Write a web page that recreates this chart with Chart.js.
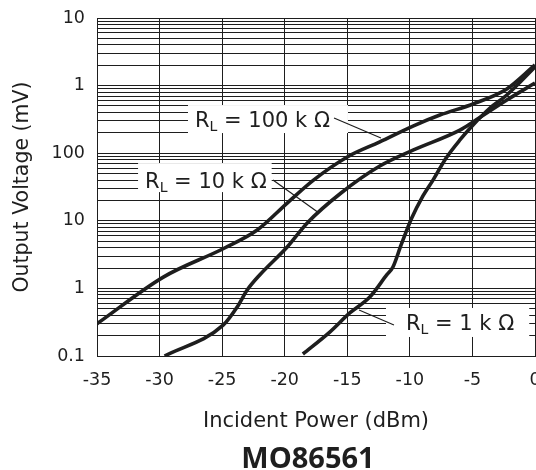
<!DOCTYPE html>
<html>
<head>
<meta charset="utf-8">
<script src="https://cdn.jsdelivr.net/npm/chart.js@4/dist/chart.umd.min.js"></script>
<style>
  html, body { margin: 0; padding: 0; background: #fff; overflow: hidden; }
  canvas { display: block; }
</style>
</head>
<body>
<canvas id="chart" width="536" height="470"></canvas>
<script>
// Incident power axis (dBm)
const powerTicks = [-35, -30, -25, -20, -15, -10, -5, 0];

// Output voltage decades, in µV, and the labels printed beside them
const voltageDecades = [0.1, 1, 10, 100, 1000, 10000];
const voltageDecadeLabels = ['0.1', '1', '10', '100', '1', '10'];

// R_L = 100 kΩ
const rl100kPower   = [-35, -29.7, -24.8, -22.2, -19.8, -17.7, -15.0, -12.4, -9.75, -7.6, -4.95, -2.25, 0];
const rl100kVoltage = [0.30, 1.47, 3.96, 7.3, 18.3, 40, 88, 147, 252, 367, 535, 891, 2018];

// R_L = 10 kΩ
const rl10kPower   = [-29.6, -24.9, -23.8, -23.0, -22.0, -19.8, -18.2, -15.5, -12.4, -9.75, -6.0, -4.95, -2.25, 0];
const rl10kVoltage = [0.1, 0.288, 0.53, 0.946, 1.58, 4.1, 9.3, 25.8, 64.7, 111, 220, 290, 612, 1092];

// R_L = 1 kΩ
const rl1kPower   = [-18.55, -16.4, -14.8, -13.2, -11.85, -11.35, -10.7, -9.85, -9.05, -8.15, -7.1, -6.0, -4.95, -3.6, -2.25, 0];
const rl1kVoltage = [0.107, 0.226, 0.433, 0.746, 1.58, 2.07, 4.39, 11, 21.7, 40, 85, 157, 261, 466, 726, 1884];

// Curve labels: load value, text anchor (dBm, µV), box padding [l, r, t, b], leader line ends
const curveLabels = [
  { value: '100', at: [-27.17, 320],   box: [7, 18, 14, 14], leader: [[-16.06, 332], [-12.31, 168]] },
  { value: '10',  at: [-31.16, 40],    box: [7, 5, 17, 12],  leader: [[-20.94, 40],  [-17.26, 13.0]] },
  { value: '1',   at: [-10.31, 0.308], box: [20, 15, 15, 14], leader: [[-14.06, 0.479], [-11.27, 0.288]] }
];

const INK = '#1e1e1e';
const FONT = "'DejaVu Sans', 'Open Sans', sans-serif";
const BOLD_FONT = "'Open Sans', 'DejaVu Sans', sans-serif";

const toPoints = (xs, ys) => xs.map((x, i) => ({ x, y: ys[i] }));

// Grid values: 1..9 within every decade, plus the top decade
const yGridValues = [];
for (let i = 0; i < voltageDecades.length - 1; i++) {
  for (let k = 1; k <= 9; k++) yGridValues.push(voltageDecades[i] * k);
}
yGridValues.push(voltageDecades[voltageDecades.length - 1]);

function decadeLabel(v) {
  for (let i = 0; i < voltageDecades.length; i++) {
    if (Math.abs(v - voltageDecades[i]) / voltageDecades[i] < 1e-6) return voltageDecadeLabels[i];
  }
  return '';
}

const curveStyle = {
  borderColor: INK,
  borderWidth: 3.6,
  pointRadius: 0,
  fill: false,
  cubicInterpolationMode: 'monotone',
  borderCapStyle: 'butt'
};

// Draws the white label boxes with their leader lines behind the curves
const curveLabelPlugin = {
  id: 'curveLabels',
  beforeDatasetsDraw(chart) {
    const { ctx, scales: { x, y } } = chart;
    ctx.save();
    curveLabels.forEach(lab => {
      const tx = x.getPixelForValue(lab.at[0]);
      const ty = y.getPixelForValue(lab.at[1]);
      const big = `21px ${FONT}`;
      const small = `14px ${FONT}`;
      ctx.font = big;
      const wR = ctx.measureText('R').width;
      const rest = ` = ${lab.value} k Ω`;
      const wRest = ctx.measureText(rest).width;
      ctx.font = small;
      const wL = ctx.measureText('L').width;
      const total = wR + wL + wRest;
      const [pl, pr, pt, pb] = lab.box;
      ctx.fillStyle = '#fff';
      ctx.fillRect(tx - pl, ty - pt, total + pl + pr, pt + pb);

      // leader line
      const [p0, p1] = lab.leader;
      ctx.strokeStyle = INK;
      ctx.lineWidth = 1.2;
      ctx.beginPath();
      ctx.moveTo(x.getPixelForValue(p0[0]), y.getPixelForValue(p0[1]));
      ctx.lineTo(x.getPixelForValue(p1[0]), y.getPixelForValue(p1[1]));
      ctx.stroke();

      // text: R with subscript L
      const base = ty + 7.5;
      ctx.fillStyle = INK;
      ctx.textBaseline = 'alphabetic';
      ctx.textAlign = 'left';
      ctx.font = big;
      ctx.fillText('R', tx, base);
      ctx.font = small;
      ctx.fillText('L', tx + wR, base + 4);
      ctx.font = big;
      ctx.fillText(rest, tx + wR + wL, base);
    });
    ctx.restore();
  },
  afterDraw(chart) {
    const { ctx, chartArea } = chart;
    ctx.save();
    ctx.font = `bold 29px ${BOLD_FONT}`;
    ctx.fillStyle = INK;
    ctx.textAlign = 'center';
    ctx.textBaseline = 'alphabetic';
    ctx.fillText('MO86561', (chartArea.left + chartArea.right) / 2 - 8, 468);
    ctx.restore();
  }
};

new Chart(document.getElementById('chart'), {
  type: 'line',
  data: {
    datasets: [
      { label: 'RL = 100 kΩ', data: toPoints(rl100kPower, rl100kVoltage), ...curveStyle },
      { label: 'RL = 10 kΩ',  data: toPoints(rl10kPower, rl10kVoltage), ...curveStyle },
      { label: 'RL = 1 kΩ',   data: toPoints(rl1kPower, rl1kVoltage), ...curveStyle }
    ]
  },
  options: {
    responsive: false,
    animation: false,
    layout: { autoPadding: false, padding: { left: 0, right: 1, top: 18, bottom: 0 } },
    plugins: { legend: { display: false }, tooltip: { enabled: false }, title: { display: false } },
    scales: {
      x: {
        type: 'linear',
        min: powerTicks[0],
        max: powerTicks[powerTicks.length - 1],
        afterBuildTicks: s => { s.ticks = powerTicks.map(v => ({ value: v })); },
        afterFit: s => { s.height = 114; s.paddingLeft = 0; s.paddingRight = 0; },
        ticks: {
          autoSkip: false, maxRotation: 0, padding: 14,
          color: INK, font: { family: FONT, size: 17.5 },
          callback: v => String(v)
        },
        grid: { color: INK, lineWidth: 1, drawTicks: false },
        border: { color: INK, width: 1 },
        title: {
          display: true, text: 'Incident Power (dBm)', color: INK,
          font: { family: FONT, size: 21 }, padding: { top: 0, bottom: 36 }
        }
      },
      y: {
        type: 'logarithmic',
        min: voltageDecades[0],
        max: voltageDecades[voltageDecades.length - 1],
        afterBuildTicks: s => { s.ticks = yGridValues.map(v => ({ value: v })); },
        afterFit: s => { s.width = 97; s.paddingTop = 0; s.paddingBottom = 0; },
        ticks: {
          autoSkip: false, padding: 12,
          color: INK, font: { family: FONT, size: 17.5 },
          callback: v => decadeLabel(v)
        },
        grid: { color: INK, lineWidth: 1, drawTicks: false },
        border: { color: INK, width: 1 },
        title: {
          display: true, text: 'Output Voltage (mV)', color: INK,
          font: { family: FONT, size: 20.5 }, padding: { top: 10, bottom: 0 }
        }
      }
    }
  },
  plugins: [curveLabelPlugin]
});
</script>
</body>
</html>
